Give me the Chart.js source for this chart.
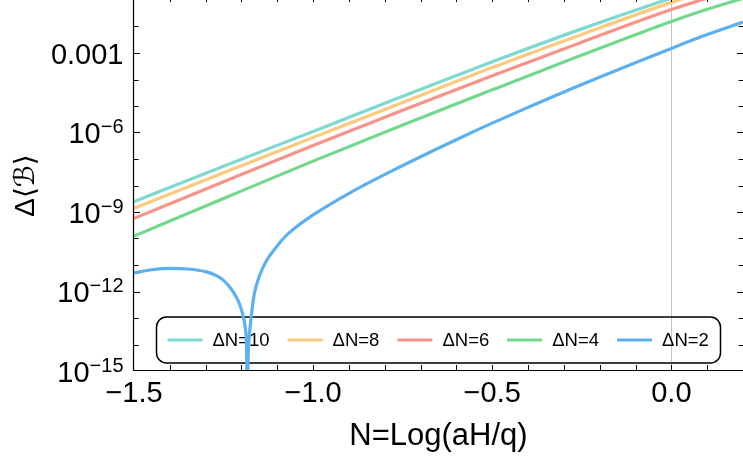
<!DOCTYPE html>
<html>
<head>
<meta charset="utf-8">
<script src="https://cdn.jsdelivr.net/npm/chart.js@4.4.0/dist/chart.umd.min.js"></script>
<style>
html,body{margin:0;padding:0;background:#fff;overflow:hidden;}
#wrap{width:743px;height:465px;position:relative;}
</style>
</head>
<body>
<div id="wrap"><canvas id="c" width="743" height="465"></canvas></div>
<script>
// ---------- data ----------
const seriesLabels = ['ΔN=10', 'ΔN=8', 'ΔN=6', 'ΔN=4', 'ΔN=2'];
const seriesColors = ['#7fd9cf', '#fcca7e', '#f8938a', '#72d98c', '#5cb0ef'];

const nUpper = [-1.5, -1.25, -1.0, -0.75, -0.5, -0.25, 0.0, 0.1, 0.2];
const dN10 = [2.45e-9, 5.37e-8, 1.10e-6, 2.34e-5, 4.68e-4, 8.13e-3, 0.1175, 0.316, 0.794];
const dN8  = [1.38e-9, 3.02e-8, 6.46e-7, 1.35e-5, 2.82e-4, 5.01e-3, 8.13e-2, 0.219, 0.562];
const dN6  = [5.75e-10, 1.38e-8, 3.24e-7, 6.92e-6, 1.38e-4, 2.57e-3, 4.37e-2, 0.1175, 0.302];
const dN4  = [1.23e-10, 3.24e-9, 8.32e-8, 1.91e-6, 4.07e-5, 8.32e-4, 1.55e-2, 4.47e-2, 0.115];

const nBlue = [-1.5, -1.45, -1.40, -1.35, -1.30, -1.27, -1.25, -1.23, -1.215, -1.204, -1.195, -1.19,
  -1.187, -1.1855, -1.1845, -1.1835, -1.1825, -1.181, -1.179, -1.174, -1.165, -1.16, -1.15, -1.14,
  -1.129, -1.11, -1.083, -1.064, -1.0, -0.897, -0.757, -0.562, -0.3945, -0.255, 0.0, 0.1, 0.2];
const dN2 = [5.01e-12, 6.61e-12, 7.41e-12, 7.08e-12, 5.62e-12, 3.98e-12, 2.63e-12, 1.32e-12, 6.31e-13, 3.02e-13, 1.12e-13, 5.01e-14,
  2.0e-14, 5.01e-15, 5.01e-16, 1e-17, 5.01e-16, 5.01e-15, 1.58e-14, 7.94e-14, 7.08e-13, 1.41e-12, 3.80e-12, 7.94e-12,
  1.55e-11, 3.55e-11, 1.0e-10, 1.78e-10, 7.76e-10, 5.31e-9, 5.08e-8, 9.42e-7, 9.57e-6, 6.10e-5, 1.49e-3, 4.94e-3, 1.47e-2];

const xTickValues = [-1.5, -1.0, -0.5, 0.0];
const xTickLabels = ['−1.5', '−1.0', '−0.5', '0.0'];
const yTickValues = [1e-15, 1e-12, 1e-9, 1e-6, 1e-3];
const yTickLabels = ['10^−15', '10^−12', '10^−9', '10^−6', '0.001'];
const xTitle = 'N=Log(aH/q)';
const yTitle = 'Δ⟨ℬ⟩';

// ---------- helpers ----------
const FONT = '"Liberation Sans", Arial, Helvetica, "DejaVu Sans", sans-serif';
function pts(xs, ys) { return xs.map((v, i) => ({x: v, y: ys[i]})); }

const seriesData = [pts(nUpper, dN10), pts(nUpper, dN8), pts(nUpper, dN6), pts(nUpper, dN4), pts(nBlue, dN2)];

const datasets = seriesData.map((d, i) => ({
  label: seriesLabels[i],
  data: d,
  borderColor: seriesColors[i],
  backgroundColor: seriesColors[i],
  borderWidth: 3.2,
  pointRadius: 0,
  fill: false,
  cubicInterpolationMode: 'monotone',
  clip: 0,
  order: 5 - i
}));

const framePlugin = {
  id: 'frame',
  beforeDatasetsDraw(chart) {
    const {ctx, chartArea: a, scales: {x}} = chart;
    ctx.save();
    // reference line at N = 0
    const x0 = Math.round(x.getPixelForValue(0)) + 0.5;
    ctx.strokeStyle = '#c6c6c6';
    ctx.lineWidth = 1;
    ctx.beginPath(); ctx.moveTo(x0, a.top); ctx.lineTo(x0, a.bottom); ctx.stroke();

    // legend box
    const bx = a.left + 22.5, by = a.bottom - 54, bw = a.right - a.left - 45, bh = 46;
    ctx.strokeStyle = '#000';
    ctx.lineWidth = 1.5;
    ctx.beginPath();
    ctx.roundRect(bx, by, bw, bh, 10);
    ctx.stroke();
    ctx.font = '18.5px ' + FONT;
    ctx.textBaseline = 'middle';
    ctx.textAlign = 'left';
    const cy = by + bh / 2;
    let cx = bx + 11;
    seriesLabels.forEach((lab, i) => {
      ctx.strokeStyle = seriesColors[i];
      ctx.lineWidth = 3;
      ctx.beginPath(); ctx.moveTo(cx, cy); ctx.lineTo(cx + 35, cy); ctx.stroke();
      cx += 45;
      ctx.fillStyle = '#000';
      ctx.fillText(lab, cx, cy + 1);
      cx += ctx.measureText(lab).width + 18;
    });
    ctx.restore();
  },
  afterDatasetsDraw(chart) {
    const {ctx, chartArea: a, scales: {x, y}} = chart;
    ctx.save();
    ctx.strokeStyle = '#000';
    ctx.lineWidth = 1.2;
    // axis lines
    ctx.beginPath();
    ctx.moveTo(a.left - 0.5, a.top); ctx.lineTo(a.left - 0.5, a.bottom);
    ctx.moveTo(a.left - 1, a.bottom - 0.5); ctx.lineTo(a.right, a.bottom - 0.5);
    ctx.stroke();
    ctx.lineWidth = 1;
    ctx.beginPath();
    // x ticks (bottom and top)
    x.ticks.forEach(t => {
      const px = Math.round(x.getPixelForValue(t.value)) + 0.5;
      if (px < a.left + 1 || px > a.right - 1) return;
      ctx.moveTo(px, a.bottom); ctx.lineTo(px, a.bottom - 6);
      ctx.moveTo(px, a.top); ctx.lineTo(px, a.top + 2);
    });
    // y ticks (left and right)
    y.ticks.forEach(t => {
      const py = Math.round(y.getPixelForValue(t.value)) + 0.5;
      if (py < a.top + 1 || py > a.bottom - 1) return;
      const major = yTickValues.some(v => Math.abs(Math.log10(v) - Math.log10(t.value)) < 1e-6);
      const len = major ? 6 : 4.5;
      ctx.moveTo(a.left, py); ctx.lineTo(a.left + len, py);
      ctx.moveTo(a.right, py); ctx.lineTo(a.right - len, py);
    });
    ctx.stroke();
    ctx.restore();
  },
  afterDraw(chart) {
    const {ctx, chartArea: a, scales: {y}} = chart;
    ctx.save();
    ctx.fillStyle = '#000';
    const rightX = a.left - 10.5;
    yTickValues.forEach((v, i) => {
      const py = y.getPixelForValue(v);
      const lab = yTickLabels[i];
      ctx.textAlign = 'right';
      ctx.textBaseline = 'alphabetic';
      if (lab.includes('^')) {
        const [base, exp] = lab.split('^');
        ctx.font = '20px ' + FONT;
        const ew = ctx.measureText(exp).width;
        ctx.fillText(exp, rightX, py + 0.5);
        ctx.font = '29px ' + FONT;
        ctx.fillText(base, rightX - ew, py + 10.5);
      } else {
        ctx.font = '29px ' + FONT;
        ctx.fillText(lab, rightX, py + 10.5);
      }
    });
    ctx.restore();
  }
};

new Chart(document.getElementById('c'), {
  type: 'line',
  data: { datasets },
  plugins: [framePlugin],
  options: {
    responsive: false,
    animation: false,
    devicePixelRatio: 1,
    layout: { padding: 0 },
    plugins: { legend: { display: false }, tooltip: { enabled: false } },
    scales: {
      x: {
        type: 'linear',
        min: -1.5,
        max: 0.2,
        grid: { display: false, drawTicks: false },
        border: { display: false },
        afterBuildTicks(scale) {
          const t = [];
          for (let k = -15; k <= 2; k++) t.push({ value: k / 10 });
          scale.ticks = t;
        },
        afterFit(scale) { scale.height = 94; },
        ticks: {
          autoSkip: false,
          maxRotation: 0,
          minRotation: 0,
          padding: 0,
          color: '#000',
          font: { family: FONT, size: 29, lineHeight: '46px' },
          callback(value) {
            const idx = xTickValues.findIndex(v => Math.abs(v - value) < 1e-9);
            return idx >= 0 ? xTickLabels[idx] : '';
          }
        },
        title: {
          display: true,
          text: xTitle,
          color: '#000',
          font: { family: FONT, size: 31 },
          padding: { top: 0, bottom: 10 }
        }
      },
      y: {
        type: 'logarithmic',
        min: 1e-15,
        max: 1e-1,
        grid: { display: false, drawTicks: false },
        border: { display: false },
        ticks: { display: false },
        afterBuildTicks(scale) {
          const t = [];
          for (let k = -15; k <= -1; k++) t.push({ value: Math.pow(10, k) });
          scale.ticks = t;
        },
        afterFit(scale) { scale.width = 134; },
        title: {
          display: true,
          text: yTitle,
          color: '#000',
          font: { family: FONT, size: 28 },
          padding: { top: 9, bottom: 0 }
        }
      }
    }
  }
});
</script>
</body>
</html>
